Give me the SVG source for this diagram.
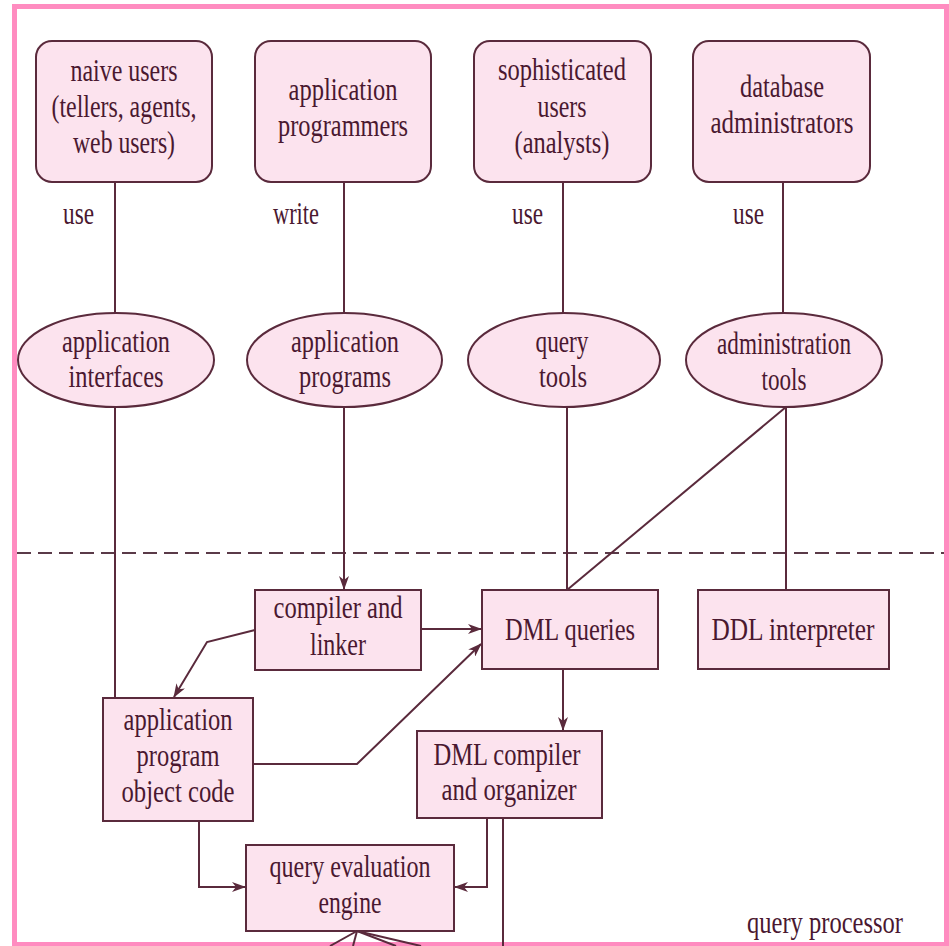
<svg xmlns="http://www.w3.org/2000/svg" width="949" height="946" viewBox="0 0 949 946">
  <defs>
    <style>
      .frame { fill: #ffffff; stroke: #ff8cc0; stroke-width: 5; }
      .node { fill: #fce3ee; stroke: #5a2a3c; stroke-width: 2; }
      .edge { fill: none; stroke: #5a2a3c; stroke-width: 2; }
      .dash { fill: none; stroke: #5a3a48; stroke-width: 2; stroke-dasharray: 14 7; }
      text { font-family: "Liberation Serif", "Times New Roman", serif; font-size: 31px; fill: #4a1830; text-anchor: middle; }
    </style>
    <marker id="arrow" viewBox="0 0 14 10" refX="13" refY="5" markerWidth="14" markerHeight="10" markerUnits="userSpaceOnUse" orient="auto">
      <path d="M0,0 L14,5 L0,10 L4,5 z" fill="#5a2a3c"/>
    </marker>
  </defs>

  <!-- outer frame -->
  <rect class="frame" x="14.5" y="6.5" width="932" height="938"/>

  <!-- boundary between users and the query processor -->
  <line class="dash" x1="17" y1="553" x2="944" y2="553"/>

  <!-- connectors -->
  <g id="connectors">
    <line class="edge" x1="115" y1="182" x2="115" y2="313"/>
    <line class="edge" x1="344" y1="182" x2="344" y2="313"/>
    <line class="edge" x1="563" y1="182" x2="563" y2="313"/>
    <line class="edge" x1="783" y1="182" x2="783" y2="313"/>

    <line class="edge" x1="115" y1="407" x2="115" y2="698"/>
    <line class="edge" x1="344" y1="407" x2="344" y2="589" marker-end="url(#arrow)"/>
    <line class="edge" x1="567" y1="407" x2="567" y2="590"/>
    <line class="edge" x1="786" y1="407" x2="786" y2="590"/>
    <line class="edge" x1="786" y1="407" x2="567" y2="590"/>

    <line class="edge" x1="421" y1="629" x2="481" y2="629" marker-end="url(#arrow)"/>
    <polyline class="edge" points="255,630 207,642 174,697" marker-end="url(#arrow)"/>
    <polyline class="edge" points="253,764 357,764 481,644" marker-end="url(#arrow)"/>
    <line class="edge" x1="563" y1="669" x2="563" y2="730" marker-end="url(#arrow)"/>
    <polyline class="edge" points="199,821 199,887 245,887" marker-end="url(#arrow)"/>
    <polyline class="edge" points="487,818 487,887 455,887" marker-end="url(#arrow)"/>
    <line class="edge" x1="503" y1="818" x2="503" y2="946"/>

    <line class="edge" x1="357" y1="931" x2="330" y2="946"/>
    <line class="edge" x1="357" y1="931" x2="353" y2="946"/>
    <line class="edge" x1="357" y1="931" x2="396" y2="946"/>
    <line class="edge" x1="357" y1="931" x2="421" y2="946"/>
  </g>

  <!-- connector labels -->
  <g id="edge-labels">
    <text x="78.5" y="224" textLength="31" lengthAdjust="spacingAndGlyphs">use</text>
    <text x="296" y="224" textLength="46" lengthAdjust="spacingAndGlyphs">write</text>
    <text x="527.5" y="224" textLength="31" lengthAdjust="spacingAndGlyphs">use</text>
    <text x="748.5" y="224" textLength="31" lengthAdjust="spacingAndGlyphs">use</text>
  </g>

  <!-- users -->
  <g id="naive-users">
    <rect class="node" x="36" y="41" width="176" height="141" rx="16"/>
    <text x="124" y="81" textLength="107" lengthAdjust="spacingAndGlyphs">naive users</text>
    <text x="124" y="117" textLength="145" lengthAdjust="spacingAndGlyphs">(tellers, agents,</text>
    <text x="124" y="153" textLength="102" lengthAdjust="spacingAndGlyphs">web users)</text>
  </g>
  <g id="application-programmers">
    <rect class="node" x="255" y="41" width="176" height="141" rx="16"/>
    <text x="343" y="100" textLength="109" lengthAdjust="spacingAndGlyphs">application</text>
    <text x="343" y="136" textLength="130" lengthAdjust="spacingAndGlyphs">programmers</text>
  </g>
  <g id="sophisticated-users">
    <rect class="node" x="474" y="41" width="177" height="141" rx="16"/>
    <text x="562" y="80" textLength="128" lengthAdjust="spacingAndGlyphs">sophisticated</text>
    <text x="562" y="117" textLength="49" lengthAdjust="spacingAndGlyphs">users</text>
    <text x="562" y="153" textLength="95" lengthAdjust="spacingAndGlyphs">(analysts)</text>
  </g>
  <g id="database-administrators">
    <rect class="node" x="693" y="41" width="177" height="141" rx="16"/>
    <text x="782" y="97" textLength="84" lengthAdjust="spacingAndGlyphs">database</text>
    <text x="782" y="133" textLength="143" lengthAdjust="spacingAndGlyphs">administrators</text>
  </g>

  <!-- tools -->
  <g id="application-interfaces">
    <ellipse class="node" cx="116" cy="360" rx="98" ry="47"/>
    <text x="116" y="352" textLength="108" lengthAdjust="spacingAndGlyphs">application</text>
    <text x="116" y="387" textLength="95" lengthAdjust="spacingAndGlyphs">interfaces</text>
  </g>
  <g id="application-programs">
    <ellipse class="node" cx="344.5" cy="360" rx="97.5" ry="47"/>
    <text x="345" y="352" textLength="108" lengthAdjust="spacingAndGlyphs">application</text>
    <text x="345" y="387" textLength="92" lengthAdjust="spacingAndGlyphs">programs</text>
  </g>
  <g id="query-tools">
    <ellipse class="node" cx="564" cy="360" rx="96" ry="47"/>
    <text x="562" y="352" textLength="53" lengthAdjust="spacingAndGlyphs">query</text>
    <text x="563" y="387" textLength="48" lengthAdjust="spacingAndGlyphs">tools</text>
  </g>
  <g id="administration-tools">
    <ellipse class="node" cx="784" cy="360" rx="98" ry="47"/>
    <text x="784" y="354" textLength="134" lengthAdjust="spacingAndGlyphs">administration</text>
    <text x="784" y="390" textLength="45" lengthAdjust="spacingAndGlyphs">tools</text>
  </g>

  <!-- query processor -->
  <g id="compiler-linker">
    <rect class="node" x="255" y="590" width="166" height="80"/>
    <text x="338" y="618" textLength="129" lengthAdjust="spacingAndGlyphs">compiler and</text>
    <text x="338" y="655" textLength="56" lengthAdjust="spacingAndGlyphs">linker</text>
  </g>
  <g id="dml-queries">
    <rect class="node" x="482" y="590" width="176" height="79"/>
    <text x="570" y="640" textLength="130" lengthAdjust="spacingAndGlyphs">DML queries</text>
  </g>
  <g id="ddl-interpreter">
    <rect class="node" x="698" y="590" width="191" height="79"/>
    <text x="793" y="640" textLength="163" lengthAdjust="spacingAndGlyphs">DDL interpreter</text>
  </g>
  <g id="object-code">
    <rect class="node" x="103" y="698" width="150" height="123"/>
    <text x="178" y="730" textLength="109" lengthAdjust="spacingAndGlyphs">application</text>
    <text x="178" y="766" textLength="83" lengthAdjust="spacingAndGlyphs">program</text>
    <text x="178" y="802" textLength="113" lengthAdjust="spacingAndGlyphs">object code</text>
  </g>
  <g id="dml-compiler">
    <rect class="node" x="417" y="731" width="185" height="87"/>
    <text x="507" y="765" textLength="147" lengthAdjust="spacingAndGlyphs">DML compiler</text>
    <text x="509" y="800" textLength="135" lengthAdjust="spacingAndGlyphs">and organizer</text>
  </g>
  <g id="query-evaluation-engine">
    <rect class="node" x="246" y="845" width="208" height="86"/>
    <text x="350" y="877" textLength="161" lengthAdjust="spacingAndGlyphs">query evaluation</text>
    <text x="350" y="913" textLength="63" lengthAdjust="spacingAndGlyphs">engine</text>
  </g>

  <text x="825" y="933" textLength="156" lengthAdjust="spacingAndGlyphs">query processor</text>
</svg>
